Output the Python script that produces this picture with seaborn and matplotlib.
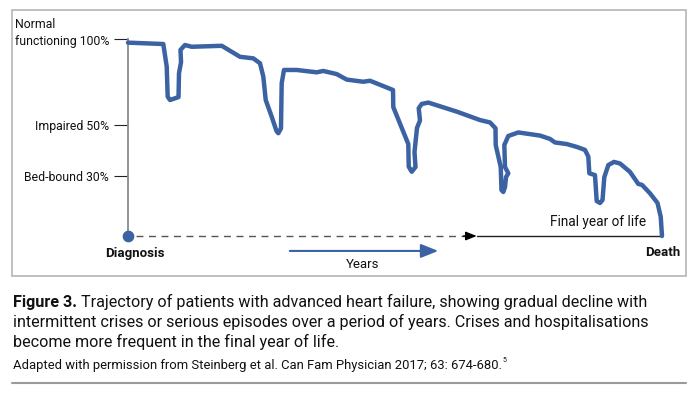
import numpy as np
import pandas as pd
import seaborn as sns
import matplotlib
matplotlib.use("Agg")
import matplotlib.pyplot as plt
from matplotlib import font_manager as fm
from matplotlib.patches import Rectangle
from matplotlib.lines import Line2D

# ---------------- data ----------------
# time: 0 = diagnosis, 100 = death ; function: 0 = baseline, 100 = normal functioning
time = [0, 6.61, 7.25, 7.43, 7.87, 9.46, 9.55, 9.93, 9.83, 10.67, 11.93, 17.55,
        20.97, 23.47, 24.72, 25.34, 25.79, 26.91, 27.81, 28.15, 28.65, 28.78, 29.21,
        31.59, 35.34, 36.57, 39.08, 40.96, 44.06, 45.32, 49.63, 49.68, 52.49, 52.57,
        53.13, 53.84, 53.65, 54.12, 54.68, 54.44, 55.00, 56.24, 61.56, 65.92, 67.79,
        68.82, 68.86, 69.80, 69.94, 70.28, 70.60, 70.79, 71.22, 70.60, 70.47, 71.22,
        73.09, 77.16, 79.03, 79.96, 82.16, 84.08, 85.58, 86.20, 86.39, 87.45, 87.77,
        88.39, 88.86, 89.20, 89.95, 91.01, 92.14, 94.01, 95.56, 96.26, 97.76, 99.16,
        99.76, 100]
function = [98.4, 97.7, 86.2, 70.9, 69.2, 70.7, 82.8, 88.5, 94.7, 97.2, 96.3, 96.8,
            91.2, 90.4, 87.9, 81.1, 69.2, 60.7, 53.4, 52.3, 54.8, 77.7, 84.5,
            84.5, 83.3, 84.0, 82.4, 79.6, 78.5, 79.0, 74.3, 65.6, 46.8, 35.3,
            32.7, 35.1, 42.7, 55.0, 58.8, 65.0, 67.2, 67.9, 63.3, 59.0, 57.8,
            54.8, 46.3, 35.1, 23.4, 22.4, 24.9, 30.0, 31.9, 35.1, 46.3, 50.9,
            52.7, 51.1, 49.4, 47.6, 46.8, 45.3, 43.8, 40.4, 31.9, 31.0, 17.8,
            16.8, 18.3, 30.0, 36.1, 37.7, 36.9, 32.6, 26.5, 26.0, 21.7, 16.8,
            9.8, 0.0]
tick_values = [100, 56.5, 30.7]
tick_labels = ["functioning 100%", "Impaired 50%", "Bed-bound 30%"]
top_label_extra = "Normal"
final_year_start = 65.3

caption_bold = "Figure 3."
caption_lines = ["Trajectory of patients with advanced heart failure, showing gradual decline with",
                 "intermittent crises or serious episodes over a period of years. Crises and hospitalisations",
                 "become more frequent in the final year of life."]
source_text = "Adapted with permission from Steinberg et al. Can Fam Physician 2017; 63: 674-680."

df = pd.DataFrame({"time": time, "function": function})

# ---------------- style ----------------
sns.set_theme(style="white")
names = {f.name for f in fm.fontManager.ttflist}
FONT = "Roboto" if "Roboto" in names else "DejaVu Sans"
plt.rcParams["font.family"] = [FONT, "DejaVu Sans"]

BLUE = "#3b63a3"
W, H = 697, 396
fig = plt.figure(figsize=(W / 100, H / 100), dpi=100)
fig.patch.set_facecolor("white")

def fx(px):
    return px / W

def fy(py):
    return 1 - py / H

ax = fig.add_axes([fx(128), fy(236), fx(662) - fx(128), fy(39.5) - fy(236)])
ax.set_facecolor("none")

sns.lineplot(data=df, x="time", y="function", sort=False, estimator=None,
             color=BLUE, linewidth=3.2, ax=ax, clip_on=False, zorder=3)
ax.set_xlim(0, 100)
ax.set_ylim(0, 100)
ax.set_xlabel("")
ax.set_ylabel("")
for s in ["top", "right", "bottom"]:
    ax.spines[s].set_visible(False)
ax.spines["left"].set_color("#8a8a8a")
ax.spines["left"].set_linewidth(1.3)
ax.set_xticks([])
ax.set_yticks(tick_values)
ax.set_yticklabels(tick_labels, fontsize=8.8, color="#111111")
ax.tick_params(axis="y", left=True, length=10, width=0.8, color="#222222", pad=3.5)

# diagnosis dot
ax.scatter([0], [0], s=55, color=BLUE, zorder=5, clip_on=False)
# dashed years line
ax.plot([1.5, final_year_start - 1.5], [0, 0], color="#555555", lw=1.0,
        linestyle=(0, (5, 4)), clip_on=False, zorder=2)
ax.annotate("", xy=(final_year_start, 0), xytext=(final_year_start - 2.5, 0),
            arrowprops=dict(arrowstyle="-|>,head_length=0.55,head_width=0.22",
                            color="black", lw=1.0, mutation_scale=12, shrinkA=0, shrinkB=0),
            annotation_clip=False)
ax.plot([final_year_start, 100], [0, 0], color="#222222", lw=1.0, clip_on=False, zorder=2)

# years arrow
ax.annotate("", xy=(58.1, -7.6), xytext=(30.3, -7.6),
            arrowprops=dict(arrowstyle="-|>,head_length=0.75,head_width=0.3",
                            color=BLUE, lw=1.5, mutation_scale=14, shrinkA=0, shrinkB=0),
            annotation_clip=False)
ax.text(44.0, -14.4, "Years", ha="center", va="center", fontsize=9.5, color="#111111")
ax.text(1.3, -8.8, "Diagnosis", ha="center", va="center", fontsize=9.5,
        fontweight="bold", color="#111111")
ax.text(100.1, -8.5, "Death", ha="center", va="center", fontsize=9.5,
        fontweight="bold", color="#111111")
ax.text(88.0, 7.3, "Final year of life", ha="center", va="center", fontsize=9.8,
        color="#111111")

# frame box
fig.patches.append(Rectangle((fx(12), fy(276)), fx(686) - fx(12), fy(10) - fy(276),
                             transform=fig.transFigure, fill=False,
                             edgecolor="#b5b5b5", lw=1.2))
# separator line
fig.lines.append(Line2D([fx(12), fx(686)], [fy(383), fy(383)],
                        transform=fig.transFigure, color="#9a9a9a", lw=1.5))

fig.canvas.draw()
renderer = fig.canvas.get_renderer()

# "Normal" above the top tick label
top_lab = ax.get_yticklabels()[0]
bb = top_lab.get_window_extent(renderer)
fig.text(bb.x0 / W, fy(24.5), top_label_extra, ha="left", va="center",
         fontsize=8.8, color="#111111")

# caption
cap_size = 11.65
t_bold = fig.text(fx(13), fy(302.3), caption_bold, ha="left", va="center",
                  fontsize=cap_size, fontweight="bold", color="#111111")
fig.canvas.draw()
bb2 = t_bold.get_window_extent(renderer)
fig.text(bb2.x1 / W + fx(4), fy(302.3), caption_lines[0], ha="left", va="center",
         fontsize=cap_size, color="#111111")
fig.text(fx(13), fy(322.3), caption_lines[1], ha="left", va="center",
         fontsize=cap_size, color="#111111")
fig.text(fx(13), fy(342.3), caption_lines[2], ha="left", va="center",
         fontsize=cap_size, color="#111111")
t_src = fig.text(fx(13), fy(365), source_text, ha="left", va="center",
                 fontsize=9.4, color="#111111")
fig.canvas.draw()
bb3 = t_src.get_window_extent(renderer)
fig.text(bb3.x1 / W + fx(1), fy(361), "5", ha="left", va="center",
         fontsize=5, color="#111111")

fig.savefig("out.png", dpi=100)
